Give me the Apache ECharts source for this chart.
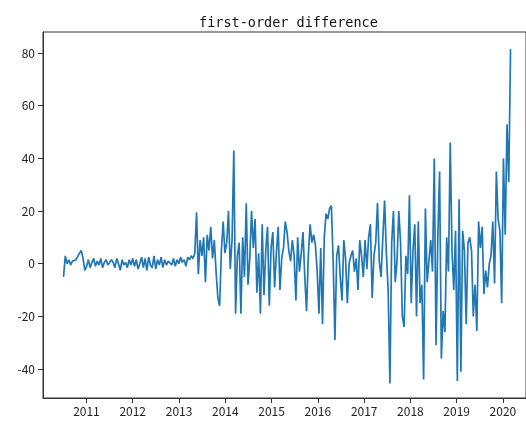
<!DOCTYPE html>
<html>
<head>
<meta charset="utf-8">
<script src="https://cdn.jsdelivr.net/npm/echarts@6/dist/echarts.min.js"></script>
<style>
  html, body { margin: 0; padding: 0; background: #fff; }
  #main { width: 526px; height: 421px; }
</style>
</head>
<body>
<div id="main"></div>
<script>
// one reading every 14 days, first reading on 2010-07-04
var startDate = '2010-07-04';
var stepDays = 14;

// calm part, 2010-07 .. 2013-04
var calmValues = [
  -5, 3, 0, 1.5, -0.5, 1, 0.5, 1.5, 1, 4, 5, 2, -2.5, -1, 1.5, -1.5, 0.5, 2, -1, 1,
  -0.5, 2, -1.5, 0.5, 1.5, -0.5, -1, 1.5, 0.5, -1.5, 2, 0, -2.5, 1.5, -0.5, 0.5, -1.5, 1.5, -0.5, 2,
  -1, 1.5, -2, 0, 2.5, -1.5, 2, -2.5, 2.5, -0.5, -1.5, 3, -2, 1.5, -0.5, 2.5, -1.5, 1.5, -0.5, 1,
  1.5, -0.5, 2, -1, 1.5, 0, 2.5, 0.5, 1.5, -1, 2.5, 1.5, 3
];

// volatile part, 2013-04 .. 2020-02
var volatileValues = [
  2, 4, 19.5, -4, 9, 3, 10, -7, 11, 5, 14, 2, 9, -3, -13, -16, 5, 16, 4, 8,
  20, -2, 9, 43, -19, 3, 8, -19, 10, -5, 23, -8, 2, 20, 6, 17, -11, 4, -19, 15,
  -12, 5, 14, -16, 6, 12, -9, 4, 14, -10, 2, 6, 16, 12, 5, 1, 9, 3, -14, 10,
  -3, 4, 12, -5, -18, 3, 15, 8, 11, 7, -3, -19, 6, -23, 10, 19, 17, 21, 22, 1,
  -29, 3, 7, -5, -14, 9, 2, -15, 0, 3, 5, -3, 2, -10, 9, 3, -5, 9, -2, 10,
  15, -13, 3, 8, 23, 1, -5, 10, 24, 4, -10, -45.5, 8, 20, -7, 1, 20, 8, -20, -24,
  3, -4, 26, -15, 5, 15, -20, 16, -15, -8, -44, 21, -7, 1, 9, -3, 40, -31, 10, 35,
  -36, -18, -26, 10, -3, 46, 5, -10, 12.5, -44.5, 24.5, -41, 12.5, 5, -23, 8, 10, 5, -20, -8,
  -25.5, 16, 6, 14, -11.5, -2.6, -9, 0, 3, 16, -7.5, 35, 17, 12.5, -15, 40, 11, 53, 31, 81.5
];

var yTicks = [-40, -20, 0, 20, 40, 60, 80];

var values = calmValues.concat(volatileValues);
var t0 = new Date(startDate + 'T00:00:00').getTime();
var seriesData = values.map(function (v, i) {
  return [t0 + i * stepDays * 864e5, v];
});

var chart = echarts.init(document.getElementById('main'));
var axisColor = '#333';
var option = {
  animation: false,
  backgroundColor: '#fff',
  title: {
    text: 'first-order difference',
    left: 194,
    top: 11,
    textStyle: {
      fontFamily: 'DejaVu Sans Mono',
      fontSize: 13.5,
      fontWeight: 'normal',
      color: '#111'
    }
  },
  grid: {
    left: 43,
    top: 32,
    bottom: 23,
    right: -3,
    show: true,
    borderColor: axisColor,
    borderWidth: 1
  },
  xAxis: {
    type: 'time',
    min: new Date('2010-01-23T00:00:00').getTime(),
    max: new Date('2020-07-01T00:00:00').getTime(),
    splitNumber: 10,
    minInterval: 365 * 864e5,
    maxInterval: 366 * 864e5,
    axisLine: { show: true, onZero: false, lineStyle: { color: axisColor } },
    axisTick: { show: true, length: 5, lineStyle: { color: axisColor } },
    splitLine: { show: false },
    axisLabel: {
      color: '#222',
      fontFamily: 'Noto Sans CJK SC',
      fontSize: 12,
      margin: 7,
      showMinLabel: false,
      showMaxLabel: false,
      formatter: function (v) { return String(new Date(v).getFullYear()); }
    }
  },
  yAxis: {
    type: 'value',
    min: -51,
    max: 88,
    axisLine: { show: true, onZero: false, lineStyle: { color: axisColor } },
    axisTick: { show: true, length: 5, customValues: yTicks, lineStyle: { color: axisColor } },
    splitLine: { show: false },
    axisLabel: {
      customValues: yTicks,
      color: '#222',
      fontFamily: 'Noto Sans CJK SC',
      fontSize: 12,
      margin: 8
    }
  },
  series: [
    {
      type: 'line',
      data: seriesData,
      showSymbol: false,
      lineStyle: { color: '#1f77b4', width: 1.7 },
      itemStyle: { color: '#1f77b4' }
    }
  ]
};
chart.setOption(option);
</script>
</body>
</html>
